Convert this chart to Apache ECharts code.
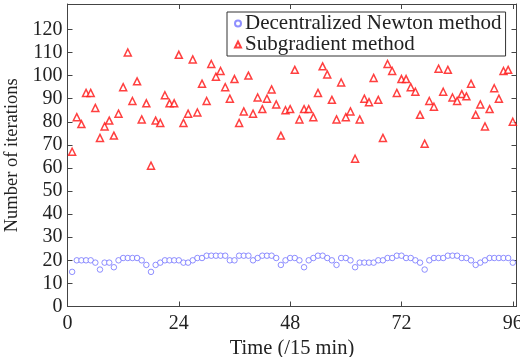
<!DOCTYPE html>
<html>
<head>
<meta charset="utf-8">
<script src="https://cdn.jsdelivr.net/npm/echarts@6/dist/echarts.min.js"></script>
<style>
html,body{margin:0;padding:0;background:#fff;}
#chart{width:520px;height:357px;}
</style>
</head>
<body>
<div id="chart"></div>
<script>
var seriesNames = ['Decentralized Newton method', 'Subgradient method'];
var xTicks = [0, 24, 48, 72, 96];
var yTicks = [0, 10, 20, 30, 40, 50, 60, 70, 80, 90, 100, 110, 120];
var newton = [15,20,20,20,20,19,16,19,19,17,20,21,21,21,21,20,18,15,18,19,20,20,20,20,19,19,20,21,21,22,22,22,22,22,20,20,22,22,22,20,21,22,22,22,21,18,20,21,21,20,17,20,21,22,22,21,20,18,21,21,20,17,19,19,19,19,20,20,21,21,22,22,21,21,20,19,16,20,21,21,21,22,22,22,21,21,20,18,19,20,21,21,21,21,21,19];
var subgradient = [67,82,79,92.5,92.5,86,73,78,80.5,74,83.5,95,110,89,97.5,81,88,61,80.5,79.5,91.5,88,88,109,79.5,83.5,107,84,96.5,89,105,99.5,102,95,90,98.5,79.5,84.5,100,83.5,90.5,85.5,90,94,87.5,74,85,85.5,102.5,81,85.5,85.5,82,92.5,104,100.5,89.5,81,97,82,84.5,64,81,90,88.5,99,89.5,73,105,102,92.5,98.5,98.5,95,93,83,70.5,89,86.5,103,93,102.5,90.5,89,92,91,96.5,83,87.5,78,85.5,94.5,90,102,102.5,80];

function pairs(arr){ return arr.map(function(v,i){ return [i+1, v]; }); }

var font = '"Liberation Serif", "DejaVu Serif", serif';
var axisColor = '#444';
var chart = echarts.init(document.getElementById('chart'), null, {renderer:'canvas'});
var baseX = {
  type:'value', min:0, max:96.8,
  axisLine:{show:true, onZero:false, lineStyle:{color:axisColor, width:1}},
  axisTick:{show:true, inside:true, length:5, customValues:xTicks, lineStyle:{color:axisColor}},
  splitLine:{show:false}
};
var baseY = {
  type:'value', min:0, max:131,
  axisLine:{show:true, onZero:false, lineStyle:{color:axisColor, width:1}},
  axisTick:{show:true, inside:true, length:5, customValues:yTicks, lineStyle:{color:axisColor}},
  splitLine:{show:false}
};
var option = {
  animation:false,
  backgroundColor:'#fff',
  grid:{left:67.5, right:3.5, top:4, bottom:50.5, containLabel:false, outerBoundsMode:'none'},
  legend:{
    orient:'vertical', left:227, top:12,
    data:seriesNames,
    backgroundColor:'#fff', borderColor:'#333', borderWidth:1,
    padding:[1,4,1,7], itemGap:0, itemWidth:6, itemHeight:6,
    textStyle:{fontFamily:font, fontSize:21, color:'#222', padding:[0,0,0,-1]}
  },
  xAxis:[
    Object.assign({}, baseX, {
      position:'bottom',
      name:'Time (/15 min)', nameLocation:'middle', nameGap:23,
      nameTextStyle:{fontFamily:font, fontSize:20.5, color:'#222'},
      axisLabel:{show:true, customValues:xTicks, margin:7, fontFamily:font, fontSize:20, color:'#222'}
    }),
    Object.assign({}, baseX, {position:'top', axisLabel:{show:false}})
  ],
  yAxis:[
    Object.assign({}, baseY, {
      position:'left',
      name:'Number of iterations', nameLocation:'middle', nameGap:43,
      nameTextStyle:{fontFamily:font, fontSize:18.5, color:'#222'},
      axisLabel:{show:true, customValues:yTicks, margin:5, fontFamily:font, fontSize:20, color:'#222'}
    }),
    Object.assign({}, baseY, {position:'right', axisLabel:{show:false}})
  ],
  series:[
    {
      name:seriesNames[0], type:'scatter', xAxisIndex:0, yAxisIndex:0,
      data:pairs(newton), symbol:'circle', symbolSize:5.5,
      itemStyle:{color:'#fff', borderColor:'#7373ff', borderWidth:1}
    },
    {
      name:seriesNames[1], type:'scatter', xAxisIndex:0, yAxisIndex:0,
      data:pairs(subgradient), symbol:'triangle', symbolSize:7,
      itemStyle:{color:'#fff', borderColor:'#ff1010', borderWidth:1.5}
    }
  ]
};
chart.setOption(option);
</script>
</body>
</html>
